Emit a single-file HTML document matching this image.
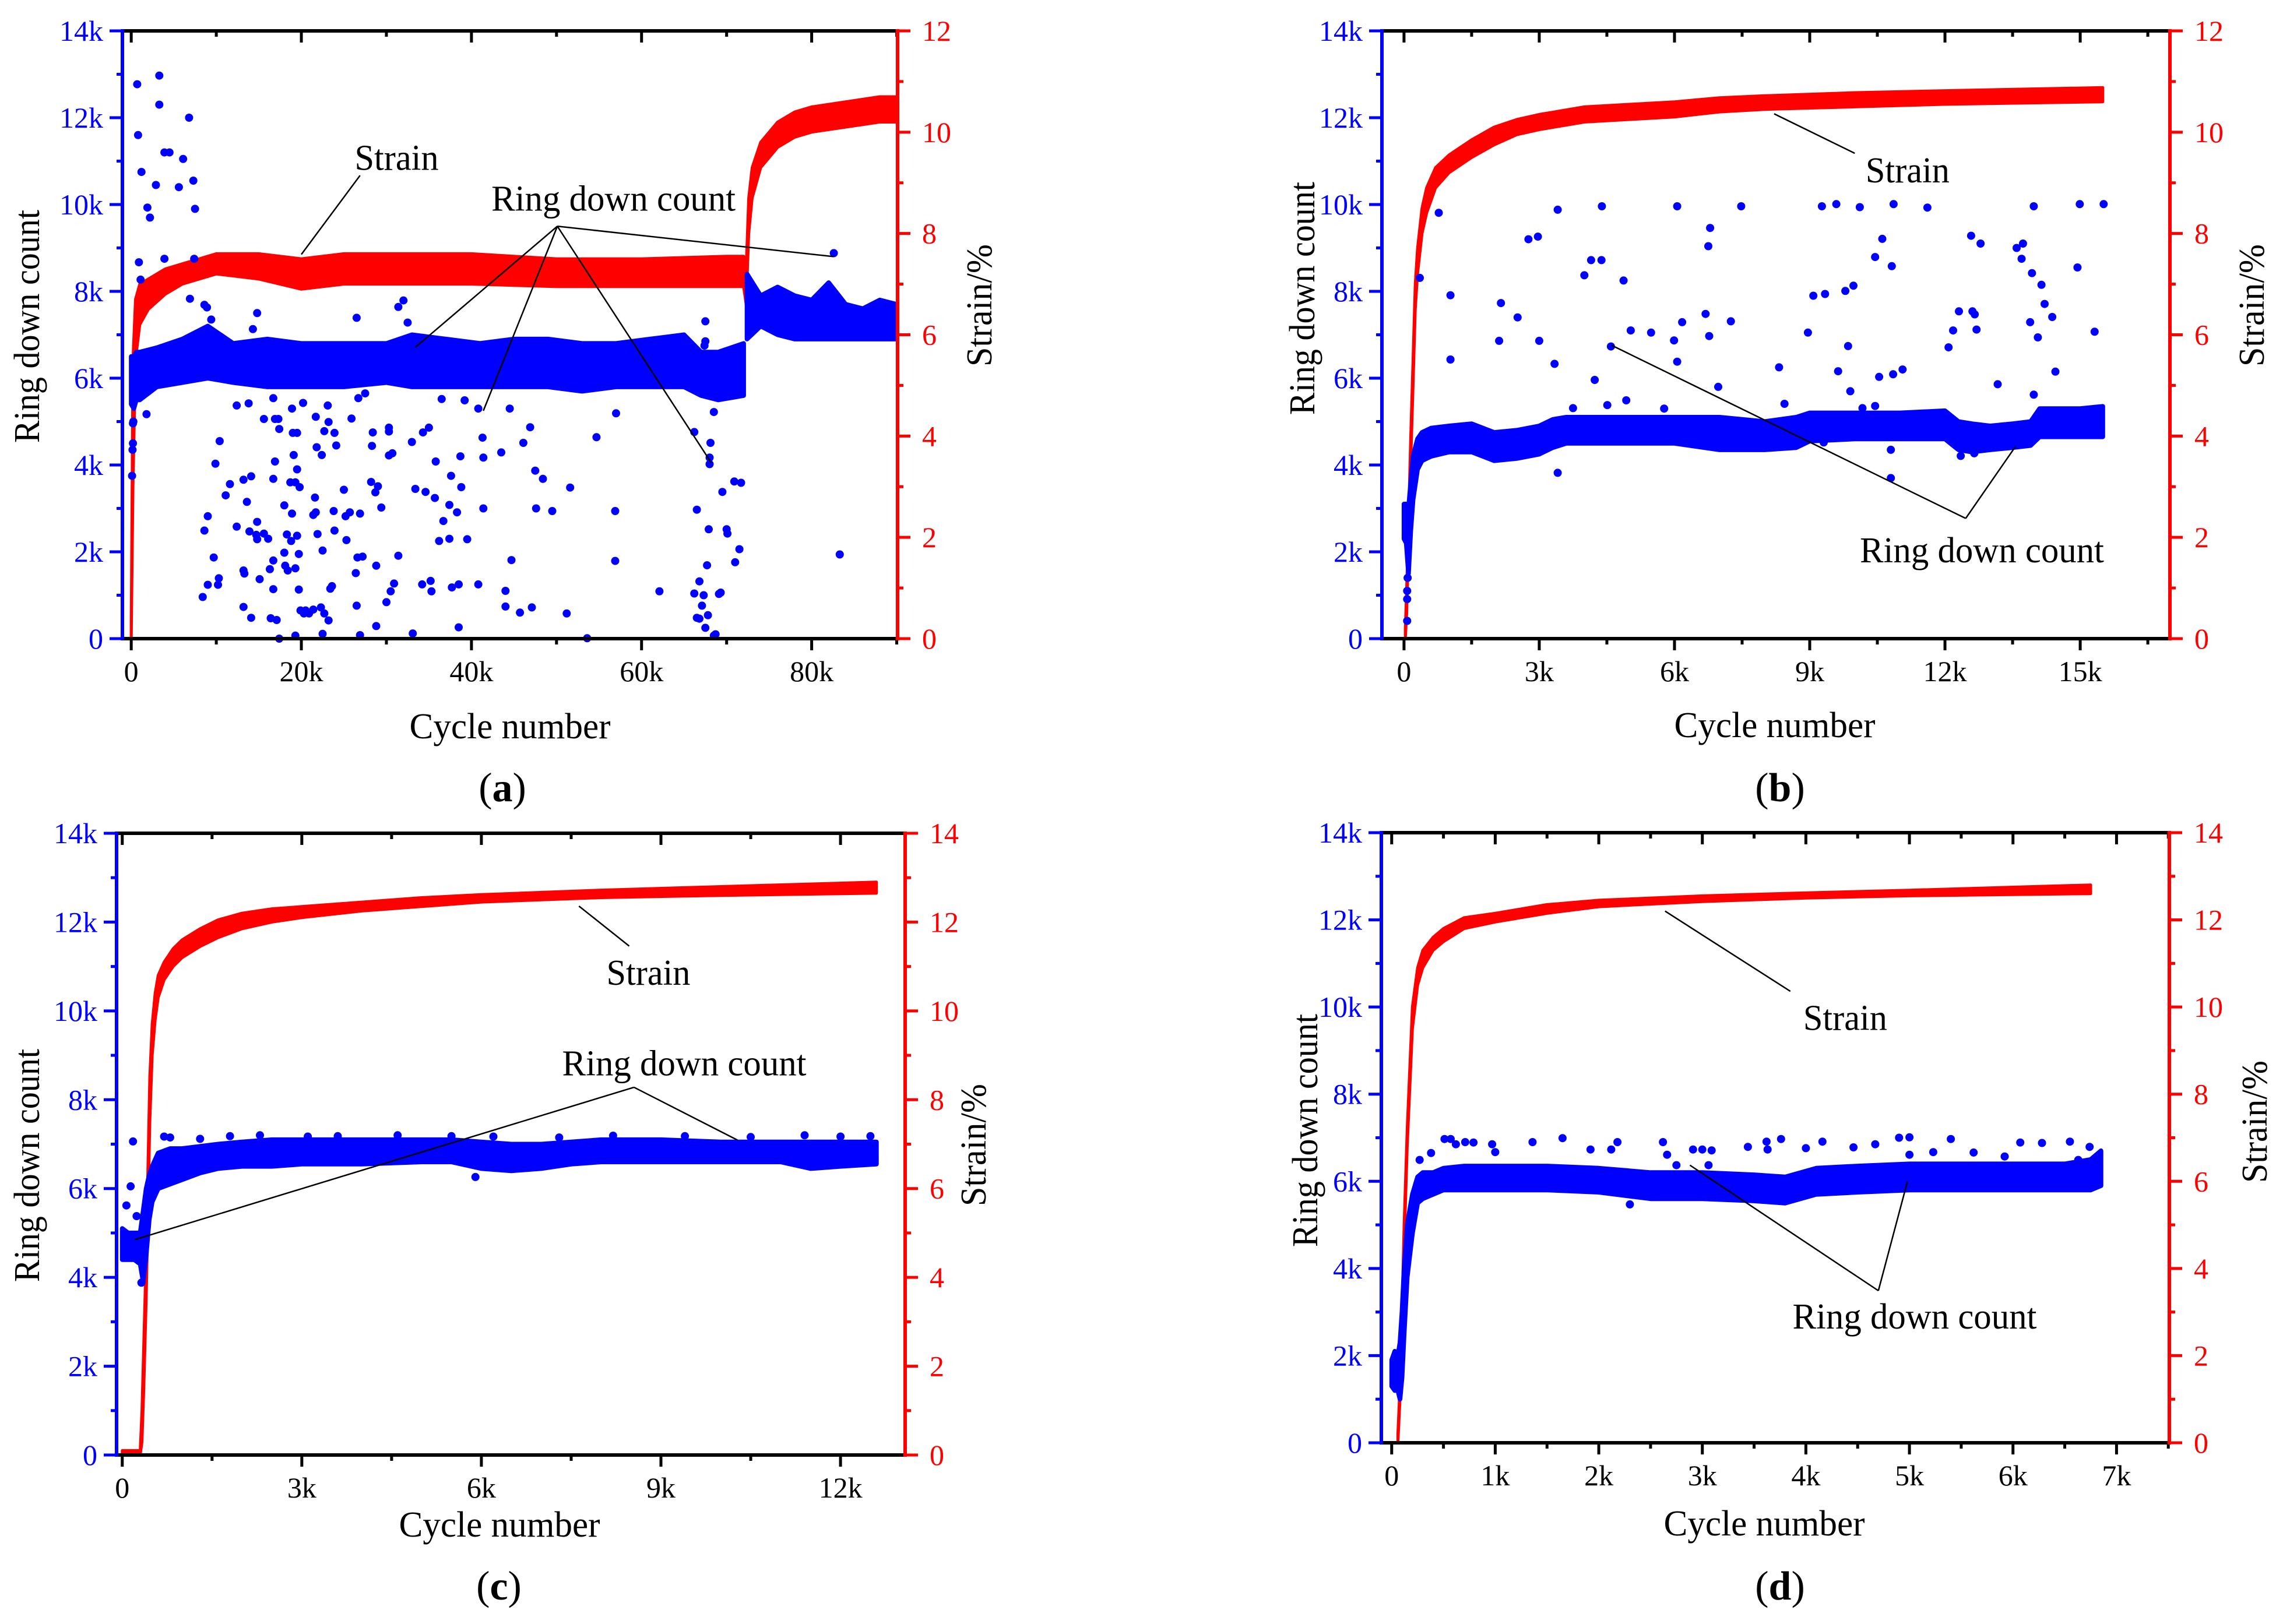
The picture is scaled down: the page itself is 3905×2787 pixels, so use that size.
<!DOCTYPE html>
<html><head><meta charset="utf-8"><style>
html,body{margin:0;padding:0;background:#fff;}
svg{display:block;}
svg text{font-family:"Liberation Serif","Times New Roman",serif;}
</style></head><body>
<svg id="fig" width="3905" height="2787" viewBox="0 0 3905 2787" xmlns="http://www.w3.org/2000/svg" font-family="Liberation Serif, serif"></svg>
<script>
// ---------- Panel (a) data (x in k cycles, ring in k, strain in %) ----------
const aRingX1=[0,0.3,0.6,1,3,6,9,12,16,20,25,30,33,37,41,45,49,53,57,61,65,67,69,72];
const aRingLo1=[5.4,5.3,5.5,5.5,5.8,5.9,6.0,5.9,5.8,5.8,5.8,5.9,5.8,5.8,5.8,5.8,5.8,5.7,5.8,5.8,5.8,5.6,5.5,5.6];
const aRingHi1=[6.5,6.5,6.6,6.6,6.7,6.9,7.2,6.8,6.9,6.8,6.8,6.8,7.0,6.9,6.8,6.9,6.9,6.8,6.8,6.9,7.0,6.6,6.6,6.8];
const aRingX2=[72.4,74,76,78,80,82,84,86,88,90];
const aRingLo2=[6.9,7.2,7.0,6.9,6.9,6.9,6.9,6.9,6.9,6.9];
const aRingHi2=[8.4,7.9,8.1,7.9,7.8,8.2,7.7,7.6,7.8,7.7];
const aStrainX=[0,0.2,0.5,1,2,4,6,8,10,15,20,25,30,40,50,60,70,72,72.3,72.6,73,74,76,78,80,84,88,90];
const aStrainLo=[0,3,5.5,6.2,6.5,6.8,7.0,7.1,7.2,7.1,6.9,7.0,7.0,7.0,6.95,6.95,6.95,6.95,6.6,8.0,8.7,9.3,9.7,9.9,10.0,10.1,10.2,10.2];
const aStrainHi=[0.3,5.5,6.7,7.0,7.1,7.3,7.4,7.5,7.6,7.6,7.5,7.6,7.6,7.6,7.5,7.5,7.55,7.55,7.3,8.7,9.3,9.8,10.2,10.4,10.5,10.6,10.7,10.7];
const aOutX=[0.7,3.3,0.8,3.3,3.9,4.5,1.2,2.9,5.6,6.1,6.8,7.3,7.5,1.9,2.2,0.9,1.1,3.9,7.4,6.9,8.6,8.9,9.4,1.8,10.4,9.9,11.6,11.1,9.0,8.6,8.4,9.0,9.7,10.2,10.3,12.4,13.8,14.8,14.3,15.6,13.2,14.1,13.6,12.4,14.8,13.9,14.7,15.6,16.1,14.8,13.2,13.3,15.1,13.2,14.1,16.7,16.9,17.3,17.4,16.9,16.7,18,18.9,18.7,19.3,19.1,19,19.5,19.5,19.8,18.9,20.2,18.3,18.8,19.5,19.7,18,18.1,18.4,19.3,16.7,16.3,16.7,16.4,17.1,17.4,19.3,19.7,19.9,20.3,20.9,21.4,22.3,22.7,23.2,22.5,20.5,21.6,21.4,21.7,21.9,22.5,23.4,23.6,23.8,23.9,21.8,22.4,22.7,23.2,23.9,24.1,21.7,23.1,25.0,25.2,25.7,25.3,25.9,26.4,26.5,26.9,26.6,26.9,27.2,26.5,26.7,27.5,28.2,28.3,28.4,28.7,29,28.8,28.8,29.4,30,30.3,30.3,30.3,30.7,30.5,30.9,31.4,31.4,32,32.5,33,33.4,33.1,34.2,34.3,34.6,35,35.2,35.3,35.8,35.7,36.7,36.2,36.5,37.4,37.6,37.4,37.7,38.5,38.5,38.3,38.7,38.8,39.5,39.2,40.8,40.8,41.3,41.4,41.4,43.5,44,44,44.5,44.7,45.7,46.1,46.9,47.1,47.5,47.6,48.4,49.5,51.2,51.6,53.6,54.7,57,56.9,56.9,62.1,66.2,66.5,66.2,66.5,66.8,66.8,67.1,67.3,67.5,67.8,67.7,67.9,68.1,68,68,68.5,68.5,68.7,69.1,69.3,69.5,70,70.1,71,70.9,71.5,71.7,67.5,67.5,67.4,82.6,83.3,0.1,0.15,0.2,0.2,0.25];
const aOutY=[12.77,12.97,11.6,12.3,11.2,11.2,10.75,10.45,10.4,11.05,12.0,10.55,9.9,9.93,9.7,8.67,8.27,8.75,8.75,7.83,7.69,7.63,7.35,5.17,4.55,4.03,3.56,3.3,2.82,2.49,0.96,1.24,1.87,1.24,1.39,5.37,5.42,7.5,7.13,5.06,3.66,3.74,3.15,2.58,2.69,2.47,2.39,2.42,2.3,2.29,1.57,1.5,1.37,0.73,0.48,5.54,5.06,5.06,4.83,4.08,3.68,3.07,2.88,3.6,3.6,4.23,4.74,4.74,3.9,3.49,5.3,5.43,2.4,2.25,2.37,1.95,1.98,1.68,1.57,1.62,1.8,1.6,1.14,0.47,0.43,0,0.07,1.13,0.65,0.58,0.58,0.67,0.72,0.58,0.42,0.11,0.65,3.25,2.85,2.91,2.41,2.03,1.15,1.21,2.94,2.49,4.41,4.23,4.78,4.99,4.74,4.45,5.11,5.37,3.43,2.82,2.91,2.27,5.07,1.51,0.76,2.88,1.87,0.08,1.89,7.39,5.54,5.65,3.61,4.44,4.75,3.37,3.51,1.68,0.29,3.02,0.84,4.86,4.77,4.22,4.27,1.09,1.27,1.91,7.64,7.79,7.28,4.53,3.45,0.12,1.25,4.75,3.38,4.86,1.33,1.09,4.08,3.24,2.71,2.25,5.52,3.08,3.75,2.3,1.18,1.25,0.26,2.91,4.2,3.49,2.29,5.49,5.3,1.25,4.63,4.17,3.0,4.29,1.1,0.74,5.3,1.81,0.6,4.51,4.87,0.72,3.87,3.0,3.68,2.94,0.58,3.48,0.01,4.64,5.19,2.94,1.79,1.09,4.76,2.97,1.04,0.48,1.32,0.46,0.76,1.0,0.25,0.54,1.69,2.52,4.51,4.17,4.02,5.22,0.07,0.1,1.03,1.06,3.38,2.52,2.42,1.76,3.62,2.06,3.59,7.31,6.85,6.75,8.88,1.94,3.75,4.35,4.96,4.5,5.0];
const aXTicks=[0,20,40,60,80];
const aXLabels=['0','20k','40k','60k','80k'];

// ---------- Panel (b) data ----------
const bRingX=[0,0.05,0.1,0.15,0.2,0.3,0.4,0.6,1,1.5,2,2.5,3,3.3,3.6,4,5,6,7,8,8.7,9,10,11,12,12.3,12.6,13,13.5,13.9,14.1,15,15.5];
const bRingLo=[2.3,2.2,1.5,2.5,3.2,3.9,4.1,4.2,4.3,4.3,4.1,4.15,4.25,4.4,4.5,4.5,4.5,4.5,4.35,4.35,4.4,4.55,4.6,4.6,4.6,4.35,4.3,4.35,4.4,4.45,4.65,4.65,4.65];
const bRingHi=[3.1,3.1,3.0,3.6,4.2,4.6,4.75,4.85,4.9,4.95,4.75,4.8,4.9,5.05,5.1,5.1,5.1,5.1,5.1,5.0,5.1,5.2,5.2,5.2,5.25,5.0,4.95,4.9,4.95,5.0,5.3,5.3,5.35];
const bStrainX=[0.03,0.06,0.1,0.15,0.2,0.25,0.3,0.4,0.5,0.7,1,1.5,2,2.5,3,4,5,6,7,8,10,12,15.5];
const bStrainLo=[0,0.5,1.8,3.5,5,6.5,7.2,8.0,8.4,8.9,9.2,9.5,9.75,9.95,10.05,10.2,10.25,10.3,10.4,10.45,10.5,10.55,10.6];
const bStrainHi=[0.2,1,2.3,4,5.5,7,7.7,8.5,8.9,9.3,9.55,9.85,10.1,10.25,10.35,10.5,10.55,10.6,10.68,10.72,10.78,10.82,10.88];
const bOutX=[0.77,1.03,1.03,0.35,2.76,2.97,2.15,2.52,2.11,3.0,3.34,3.41,3.41,3.75,4.0,4.15,4.38,4.39,4.23,4.59,4.51,4.87,4.93,5.03,5.48,5.77,5.99,6.06,6.06,6.17,6.75,6.79,6.69,6.77,6.97,7.25,7.48,8.32,8.44,8.96,9.08,9.27,9.34,9.59,9.63,9.79,9.85,9.97,9.9,10.11,10.17,10.45,10.45,10.61,10.54,10.82,10.85,10.86,11.06,10.8,10.8,11.61,12.08,12.18,12.31,12.58,12.61,12.66,12.7,12.79,13.17,13.59,13.73,13.7,13.93,13.89,13.97,13.97,14.06,14.14,14.21,14.38,14.45,14.94,14.99,15.32,15.52,12.35,12.65,9.31,0.07,0.07,0.07,0.08];
const bOutY=[9.81,7.91,6.43,8.31,9.2,9.26,7.73,7.4,6.86,6.86,6.33,9.88,3.82,5.31,8.37,8.72,8.72,9.96,5.96,6.73,5.38,8.25,5.49,7.1,7.05,5.3,6.87,9.96,6.38,7.29,9.04,9.46,7.48,6.97,5.8,7.31,9.96,6.25,5.41,7.05,7.9,9.96,7.94,10.01,6.16,8.01,6.74,8.13,5.7,9.94,5.31,8.79,5.36,9.21,6.03,8.58,6.09,10.01,6.2,4.35,3.7,9.93,6.71,7.1,7.54,9.28,7.54,7.47,7.12,9.1,5.86,9.0,9.1,8.75,8.42,7.29,9.96,5.62,6.94,8.15,7.71,7.41,6.15,8.55,10.01,7.07,10.01,4.21,4.27,4.52,0.41,0.91,1.1,1.4];
const bXTicks=[0,3,6,9,12,15];
const bXLabels=['0','3k','6k','9k','12k','15k'];

// ---------- Panel (c) data ----------
const cRingX=[0,0.1,0.2,0.3,0.35,0.4,0.45,0.5,0.6,0.8,1,1.3,1.6,2,2.5,3,4,5,5.5,6,6.5,7,7.5,8,9,10,11,11.5,12,12.6];
const cRingLo=[4.4,4.4,4.4,4.3,3.9,4.5,5.3,5.7,6.0,6.1,6.2,6.35,6.45,6.5,6.5,6.55,6.55,6.6,6.6,6.45,6.4,6.45,6.55,6.6,6.6,6.6,6.6,6.45,6.5,6.55];
const cRingHi=[5.1,5.0,5.0,5.0,5.5,6.0,6.3,6.5,6.8,6.9,6.9,6.95,7.0,7.05,7.1,7.1,7.1,7.1,7.1,7.05,7.0,7.0,7.05,7.1,7.1,7.05,7.05,7.05,7.05,7.05];
const cStrainX=[0,0.3,0.33,0.36,0.4,0.43,0.46,0.5,0.55,0.6,0.7,0.85,1,1.3,1.6,2,2.5,3,4,5,6,8,10,12.6];
const cStrainLo=[0,0,0.3,1.5,3.5,5.5,7.5,9.0,9.8,10.3,10.7,11.0,11.2,11.45,11.65,11.85,12.0,12.1,12.25,12.35,12.45,12.55,12.6,12.65];
const cStrainHi=[0.1,0.1,1,2.5,4.5,6.5,8.5,9.7,10.4,10.8,11.1,11.4,11.6,11.85,12.05,12.2,12.3,12.35,12.45,12.55,12.62,12.72,12.8,12.9];
const cOutX=[0.18,0.07,0.14,0.24,0.32,5.9,0.7,0.8,1.3,1.8,2.3,3.1,3.6,4.6,5.5,6.2,7.3,8.2,9.4,10.5,11.4,12.0,12.5];
const cOutY=[7.06,5.62,6.05,5.38,3.88,6.26,7.17,7.15,7.12,7.18,7.2,7.17,7.18,7.2,7.18,7.17,7.15,7.19,7.18,7.16,7.2,7.17,7.18];
const cXTicks=[0,3,6,9,12];
const cXLabels=['0','3k','6k','9k','12k'];

// ---------- Panel (d) data ----------
const dRingX=[0,0.03,0.06,0.08,0.1,0.12,0.15,0.2,0.25,0.3,0.4,0.5,0.7,1,1.5,2,2.5,3,3.5,3.8,4.1,4.5,5,5.5,6,6.5,6.75,6.85];
const dRingLo=[1.3,1.2,1.2,1.0,1.5,2.5,3.8,4.8,5.5,5.6,5.7,5.8,5.8,5.8,5.8,5.75,5.6,5.6,5.55,5.5,5.7,5.75,5.8,5.8,5.8,5.8,5.8,5.9];
const dRingHi=[1.9,2.1,2.0,2.3,3.0,4.0,5.0,5.7,6.1,6.2,6.2,6.3,6.35,6.35,6.35,6.3,6.2,6.2,6.15,6.1,6.3,6.35,6.4,6.4,6.4,6.4,6.5,6.7];
const dStrainX=[0.06,0.08,0.1,0.12,0.15,0.2,0.25,0.3,0.4,0.5,0.7,1,1.5,2,3,4,5,6,6.75];
const dStrainLo=[0,1,2.5,4.5,6.8,9.5,10.5,10.9,11.3,11.5,11.8,11.95,12.15,12.3,12.42,12.5,12.55,12.58,12.6];
const dStrainHi=[0.2,1.3,3,5,7.2,10,10.9,11.3,11.6,11.8,12.05,12.15,12.35,12.45,12.55,12.62,12.68,12.75,12.8];
const dOutX=[0.51,0.57,0.62,0.71,0.79,0.38,0.27,0.97,1.0,1.36,1.65,1.92,2.18,2.12,2.3,2.62,2.66,2.75,2.91,3.0,3.09,3.06,3.44,3.62,3.63,3.76,4.0,4.16,4.46,4.67,4.9,5.0,5.0,5.23,5.4,5.62,5.92,6.07,6.28,6.55,6.63,6.74,6.78];
const dOutY=[6.97,6.97,6.85,6.9,6.89,6.65,6.49,6.85,6.67,6.9,6.99,6.73,6.9,6.73,5.47,6.9,6.61,6.37,6.73,6.73,6.71,6.37,6.79,6.91,6.73,6.97,6.76,6.91,6.78,6.85,7.0,7.01,6.61,6.67,6.97,6.66,6.57,6.89,6.88,6.91,6.49,6.79,6.37];
const dXTicks=[0,1,2,3,4,5,6,7];
const dXLabels=['0','1k','2k','3k','4k','5k','6k','7k'];

const yLTicks=[0,2,4,6,8,10,12,14];
const yLLabels=['0','2k','4k','6k','8k','10k','12k','14k'];
const yR12Ticks=[0,2,4,6,8,10,12];
const yR14Ticks=[0,2,4,6,8,10,12,14];

const NS='http://www.w3.org/2000/svg';
const svg=document.getElementById('fig');
const FONT='"Liberation Serif", "Times New Roman", serif';
function mk(tag,attrs,parent){const e=document.createElementNS(NS,tag);for(const k in attrs)e.setAttribute(k,attrs[k]);if(tag==='text')e.style.fontFamily=FONT;(parent||svg).appendChild(e);return e;}

const panels=[
 {id:'a',L:210,R:1540,T:53,B:1096,xmin:-1.04,xmax:90.1,minor:10,rmax:12,rTicks:yR12Ticks,xT:aXTicks,xL:aXLabels,
  rings:[[aRingX1,aRingLo1,aRingHi1],[aRingX2,aRingLo2,aRingHi2]],strain:[aStrainX,aStrainLo,aStrainHi],ox:aOutX,oy:aOutY,
  yTitle:[47,560],rTitle:[1681,524],xTitle:[875,1247],label:[862,1352],
  ann:[{t:'Strain',x:31.2,y:11.07,w:144,lines:[[26.9,10.67,20,8.85]]},
       {t:'Ring down count',x:56.7,y:10.13,w:419,lines:[[50.1,9.5,33.4,6.71],[50.1,9.5,41.4,5.25],[50.1,9.5,68.2,4.05],[50.1,9.5,82.6,8.8]]}]},
 {id:'b',L:2371,R:3723,T:53,B:1096,xmin:-0.49,xmax:16.99,minor:1.5,rmax:12,rTicks:yR12Ticks,xT:bXTicks,xL:bXLabels,
  rings:[[bRingX,bRingLo,bRingHi]],strain:[bStrainX,bStrainLo,bStrainHi],ox:bOutX,oy:bOutY,
  yTitle:[2235,512],rTitle:[3864,524],xTitle:[3045,1245],label:[3054,1352],
  ann:[{t:'Strain',x:11.17,y:10.78,w:144,lines:[[10,11.18,8.21,12.09]]},
       {t:'Ring down count',x:12.82,y:2.03,w:419,lines:[[12.46,2.77,4.6,6.76],[12.46,2.77,13.56,4.42]]}]},
 {id:'c',L:200,R:1553,T:1430,B:2497,xmin:-0.095,xmax:13.08,minor:1.5,rmax:14,rTicks:yR14Ticks,xT:cXTicks,xL:cXLabels,
  rings:[[cRingX,cRingLo,cRingHi]],strain:[cStrainX,cStrainLo,cStrainHi],ox:cOutX,oy:cOutY,
  yTitle:[47,2000],rTitle:[1671,1965],xTitle:[857,2617],label:[856,2722],
  ann:[{t:'Strain',x:8.79,y:10.85,w:144,lines:[[8.47,11.46,7.63,12.36]]},
       {t:'Ring down count',x:9.39,y:8.81,w:419,lines:[[8.55,8.28,0.21,4.85],[8.55,8.28,10.28,7.09]]}]},
 {id:'d',L:2370,R:3722,T:1429,B:2476,xmin:-0.1,xmax:7.51,minor:0.5,rmax:14,rTicks:yR14Ticks,xT:dXTicks,xL:dXLabels,
  rings:[[dRingX,dRingLo,dRingHi]],strain:[dStrainX,dStrainLo,dStrainHi],ox:dOutX,oy:dOutY,
  yTitle:[2240,1940],rTitle:[3869,1925],xTitle:[3027,2615],label:[3054,2722],
  ann:[{t:'Strain',x:4.38,y:9.74,w:144,lines:[[3.85,10.36,2.64,12.2]]},
       {t:'Ring down count',x:5.05,y:2.89,w:419,lines:[[4.7,3.49,2.88,6.37],[4.7,3.49,4.98,5.99]]}]}
];

panels.forEach(p=>{
  const g=mk('g',{});
  
  
  const sx=v=>p.L+(v-p.xmin)/(p.xmax-p.xmin)*(p.R-p.L);
  const syL=v=>p.B-v/14*(p.B-p.T);
  const syR=v=>p.B-v/p.rmax*(p.B-p.T);
  const st=p.strain;
  let pts=[];
  for(let i=0;i<st[0].length;i++)pts.push(sx(st[0][i]).toFixed(1)+','+syR(st[2][i]).toFixed(1));
  for(let i=st[0].length-1;i>=0;i--)pts.push(sx(st[0][i]).toFixed(1)+','+syR(st[1][i]).toFixed(1));
  const sp=mk('polygon',{points:pts.join(' '),fill:'#ff0000',stroke:'#ff0000','stroke-width':5,'stroke-linejoin':'round'},g);
  
  
  p.rings.forEach((r,ri)=>{
    let q=[];
    for(let i=0;i<r[0].length;i++)q.push(sx(r[0][i]).toFixed(1)+','+syL(r[2][i]).toFixed(1));
    for(let i=r[0].length-1;i>=0;i--)q.push(sx(r[0][i]).toFixed(1)+','+syL(r[1][i]).toFixed(1));
    const rp=mk('polygon',{points:q.join(' '),fill:'#0000ff',stroke:'#0000ff','stroke-width':8,'stroke-linejoin':'round'},g);
    
    
  });
  const og=mk('g',{fill:'#0000ff'},g);
  
  
  for(let i=0;i<p.ox.length;i++){
    const c=mk('circle',{cx:sx(p.ox[i]).toFixed(1),cy:syL(p.oy[i]).toFixed(1),r:7},og);
    
    
  }
  const ax=mk('g',{},g);
  
  
  mk('line',{x1:p.L,y1:p.B,x2:p.R,y2:p.B,stroke:'#000','stroke-width':6},ax);
  mk('line',{x1:p.L,y1:p.T,x2:p.R,y2:p.T,stroke:'#000','stroke-width':6},ax);
  const nMin=Math.floor(p.xmax/p.minor);
  for(let k=0;k<=nMin;k++){
    const v=k*p.minor; const X=sx(v);
    const major=p.xT.some(t=>Math.abs(t-v)<1e-6);
    const len=major?20:10;
    mk('line',{x1:X,y1:p.B,x2:X,y2:p.B+len,stroke:'#000','stroke-width':5},ax);
    mk('line',{x1:X,y1:p.T,x2:X,y2:p.T+len,stroke:'#000','stroke-width':5},ax);
  }
  p.xT.forEach((v,i)=>{
    const t=mk('text',{x:sx(v),y:p.B+73,'font-size':50,'text-anchor':'middle',fill:'#000'},ax);
    t.textContent=p.xL[i];
    
    
  });
  mk('line',{x1:p.L,y1:p.T-3,x2:p.L,y2:p.B+3,stroke:'#0000ff','stroke-width':6},ax);
  for(let v=0;v<=14;v++){
    const Y=syL(v); const len=(v%2===0)?22:10;
    mk('line',{x1:p.L-len,y1:Y,x2:p.L,y2:Y,stroke:'#0000ff','stroke-width':5},ax);
  }
  yLTicks.forEach((v,i)=>{
    const t=mk('text',{x:p.L-33,y:syL(v)+17,'font-size':50,'text-anchor':'end',fill:'#0000ff'},ax);
    t.textContent=yLLabels[i];
    
    
  });
  mk('line',{x1:p.R,y1:p.T-3,x2:p.R,y2:p.B+3,stroke:'#ff0000','stroke-width':6},ax);
  for(let v=0;v<=p.rmax;v++){
    const Y=syR(v); const len=(v%2===0)?22:10;
    mk('line',{x1:p.R,y1:Y,x2:p.R+len,y2:Y,stroke:'#ff0000','stroke-width':5},ax);
  }
  p.rTicks.forEach(v=>{
    const t=mk('text',{x:p.R+42,y:syR(v)+17,'font-size':50,'text-anchor':'start',fill:'#ff0000'},ax);
    t.textContent=String(v);
    
    
  });
  let t=mk('text',{x:0,y:0,'font-size':62,'text-anchor':'middle',fill:'#000',transform:`translate(${p.yTitle[0]},${p.yTitle[1]}) rotate(-90)`,'dominant-baseline':'central',textLength:400,lengthAdjust:'spacingAndGlyphs'},g);
  t.textContent='Ring down count';
  
  
  t=mk('text',{x:0,y:0,'font-size':62,'text-anchor':'middle',fill:'#000',transform:`translate(${p.rTitle[0]},${p.rTitle[1]}) rotate(-90)`,'dominant-baseline':'central',textLength:210,lengthAdjust:'spacingAndGlyphs'},g);
  t.textContent='Strain/%';
  
  
  t=mk('text',{x:p.xTitle[0],y:p.xTitle[1],'font-size':62,'text-anchor':'middle','dominant-baseline':'central',fill:'#000',textLength:345,lengthAdjust:'spacingAndGlyphs'},g);
  t.textContent='Cycle number';
  
  
  t=mk('text',{x:p.label[0],y:p.label[1],'font-size':70,'text-anchor':'middle','dominant-baseline':'central',fill:'#000'},g);
  
  
  t.appendChild(document.createTextNode('('));
  const b=mk('tspan',{'font-weight':'bold'},t); b.textContent=p.id;
  t.appendChild(document.createTextNode(')'));
  p.ann.forEach(a=>{
    a.lines.forEach(l=>{
      const ln=mk('line',{x1:sx(l[0]),y1:syL(l[1]),x2:sx(l[2]),y2:syL(l[3]),stroke:'#000','stroke-width':2.5},g);
      
      
    });
    const at=mk('text',{x:sx(a.x),y:syL(a.y),'font-size':62,'text-anchor':'middle','dominant-baseline':'central',fill:'#000',textLength:a.w,lengthAdjust:'spacingAndGlyphs'},g);
    at.textContent=a.t;
    
    
  });
});
</script>
</body></html>
